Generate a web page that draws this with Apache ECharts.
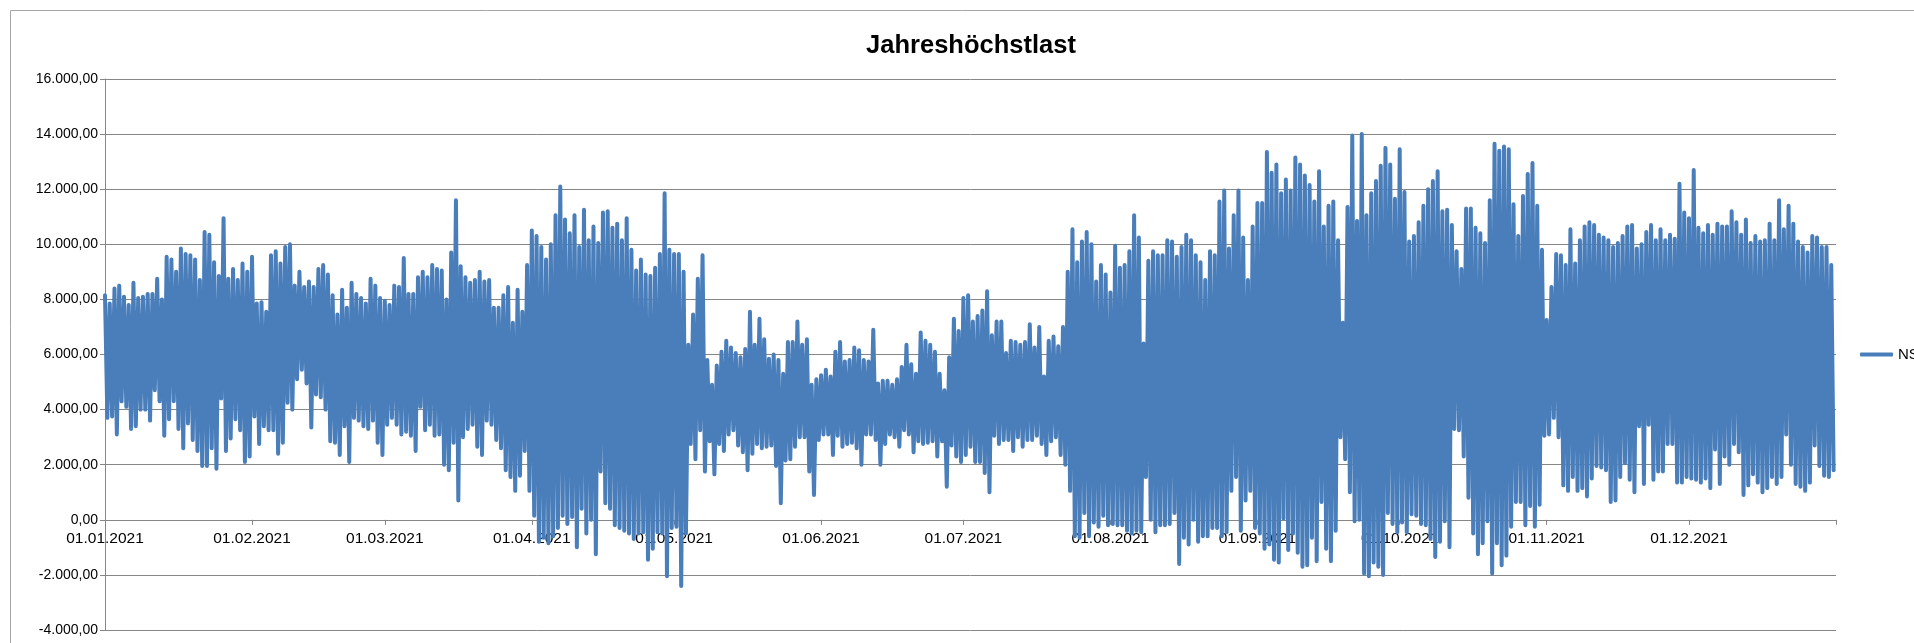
<!DOCTYPE html>
<html>
<head>
<meta charset="utf-8">
<script src="https://cdn.jsdelivr.net/npm/echarts@6/dist/echarts.min.js"></script>
<style>
html,body{margin:0;padding:0;background:#fff;}
#chart{width:1914px;height:643px;}
</style>
</head>
<body>
<div id="chart"></div>
<script>
// ---- Data (daily maximum / minimum of the load curve) ----
const monthLabels = ['01.01.2021','01.02.2021','01.03.2021','01.04.2021','01.05.2021','01.06.2021',
                     '01.07.2021','01.08.2021','01.09.2021','01.10.2021','01.11.2021','01.12.2021'];
const seriesName = 'NS';

const maxJan = [8150,7850,8400,8500,8100,7800,8600,8050,8100,8200,8200,8750,8000,9550,9450,9000,9850,9650,9600,9450,8700,10450,10350,9350,8850,10950,8750,9100,8700,9300,9000];
const minJan = [3700,3750,3100,4300,4100,3300,3400,4000,4000,3600,4700,4300,3050,3650,4300,3300,2600,3500,2900,2500,1950,1950,2600,1850,4400,2500,2950,3650,3250,2100,2300];
const maxFeb = [9550,7850,7900,7550,9600,9750,9300,9900,10000,8500,9000,8450,8650,8450,9100,9250,8900,8150,7450,8350,7700,8600,8200,8050,7850,8750,8500,8050];
const minFeb = [3750,2750,3400,3250,3250,2400,2800,4250,4000,5100,5450,4950,3350,4550,4450,4000,2850,2800,2350,3400,2100,3700,3600,3400,3300,3600,2800,2350];
const maxMar = [7950,7800,8500,8450,9500,8200,8200,8800,9000,8800,9250,9100,9050,8000,9700,11600,9200,8800,8600,8700,9000,8650,8700,7700,7700,8150,8450,7150,8350,7550,9250];
const minMar = [3450,3700,3450,3100,3200,3050,2500,4100,3250,3450,3050,3100,2000,1800,2800,700,3000,3300,3450,2650,2350,3600,3450,2900,2600,1800,1550,1050,1600,2500,1050];
const maxApr = [10500,10300,9900,9450,10000,11050,12100,10900,10400,11050,9900,11250,10150,10650,10050,11150,11200,10600,10750,10150,10950,9800,9050,9450,8900,8850,9150,9650,11850,9800];
const minApr = [150,-800,-650,-850,-600,-300,150,-150,100,-1000,400,-500,0,-1250,1750,600,400,-200,-300,-400,-500,-700,-500,-450,-1450,-1050,-450,-500,-2050,-300];
const maxMay = [9650,9650,9000,6350,7450,8750,9600,5800,4900,5600,6100,6500,6250,6050,5900,6200,7550,6350,7300,6550,5850,6000,5800,5300,6450,6450,7200,6350,6550,4900,5100];
const minMay = [-250,-2400,-500,2750,2200,3250,1750,2850,1650,2750,2500,3100,3250,2700,2450,1800,2400,2750,2600,2650,2700,1950,600,2150,2200,2650,3000,3000,1750,900,2900];
const maxJun = [5250,5450,5200,6100,6450,5750,5800,6250,6150,5800,5750,6900,4950,5050,5050,4900,5100,5550,6350,5650,5300,6800,6500,6350,6100,5300,4700,5900,7300,6850];
const minJun = [3100,3100,2350,3050,2650,2750,2800,2600,2000,3100,3100,2900,2000,2750,3100,3000,2650,3250,3100,2450,2850,2750,2800,2850,2300,2850,1200,2700,2300,2100];
const maxJul = [8050,8150,7200,7400,7600,8300,6700,7200,7200,6050,6500,6450,6350,6450,7100,6250,7000,5200,6500,6650,6300,7000,9000,10550,9350,10100,10450,10000,8650,9250,8900];
const minJul = [2350,2650,2100,2100,1700,1000,3050,2750,2900,2900,2500,3000,2650,2900,2900,3050,2750,2350,2850,3000,2350,2000,1050,-600,-650,250,-600,-100,-250,150,-200];
const maxAug = [8250,9950,9150,9250,9750,11050,10250,6400,9400,9750,9600,9600,10150,10100,9550,9900,10350,10150,9600,9350,8700,9750,9600,11550,11950,9850,11050,11950,10250,8700,10650];
const minAug = [-150,-200,-200,-400,-500,-400,-450,1550,0,-450,-200,-200,-150,250,-1600,-650,-900,0,-800,-600,-600,-300,-300,-600,-450,1050,1550,-400,700,1050,-300];
const maxSep = [11500,11500,13350,12600,12900,11850,12350,11950,13150,12900,12500,12150,11550,12650,10650,11400,11550,10150,7150,11350,13950,10850,14000,11050,11850,12300,12850,13500,12900,11650];
const minSep = [-500,-1050,-900,-1450,-1550,50,-1100,-500,-1200,-1700,-1650,-650,-1500,650,-1050,-1500,-400,3000,2200,1000,-50,0,-1950,-2050,-1550,-1700,-2000,250,-150,-450];
const maxOct = [13450,11900,10100,10300,10800,11400,12000,12300,12650,11200,11250,10700,9750,9100,11300,11300,10600,10400,10050,11600,13650,13400,13550,13450,11450,10300,11750,12550,12950,11400,9800];
const minOct = [-100,-450,200,150,-150,-200,-700,-1350,-800,-50,-1000,3300,3250,2300,800,-500,-1250,-850,-50,-1950,-850,-1650,-1300,-250,650,650,-200,500,-250,550,3050];
const maxNov = [7250,8450,9650,9600,9250,10550,9300,10150,10650,10800,10700,10350,10250,10150,9900,10050,10300,10650,10700,9850,10000,10450,10700,10150,10550,10150,10350,10200,12200,11150];
const minNov = [3100,3700,3000,1250,1050,1550,1050,1150,850,1500,1950,1900,1800,650,700,1550,2050,1450,1000,3400,1300,3450,1450,1750,1750,2750,2750,1350,1350,1550];
const maxDec = [10950,12700,10600,10400,10700,10350,10750,10650,10650,11200,10800,10350,10900,10050,10300,10100,10150,10750,10150,11600,10550,11400,10750,10100,9900,9700,10300,10250,9900,9900,9250];
const minDec = [1500,1450,1350,1500,1150,2550,1300,2300,2000,2750,2450,900,1250,1650,1350,1000,1150,1550,1300,1550,3100,2000,1300,1200,1050,1350,2700,1950,1600,1550,1800];

// ---- Build series (max then min of each day) ----
const dayMax = [].concat(maxJan,maxFeb,maxMar,maxApr,maxMay,maxJun,maxJul,maxAug,maxSep,maxOct,maxNov,maxDec);
const dayMin = [].concat(minJan,minFeb,minMar,minApr,minMay,minJun,minJul,minAug,minSep,minOct,minNov,minDec);
const values = [];
dayMax.forEach(function (h, i) { values.push(h, dayMin[i]); });

// half-day categories for the whole year plus the closing boundary (01.01.2022)
const categories = [];
const t0 = Date.UTC(2021, 0, 1);
for (let i = 0; i <= values.length; i++) {
  const d = new Date(t0 + i * 12 * 3600 * 1000);
  const p = n => String(n).padStart(2, '0');
  categories.push(p(d.getUTCDate()) + '.' + p(d.getUTCMonth() + 1) + '.' + d.getUTCFullYear() + ' ' + p(d.getUTCHours()));
}

function deNum(v) {
  const s = Math.abs(v).toFixed(2).split('.');
  return (v < 0 ? '-' : '') + s[0].replace(/\B(?=(\d{3})+(?!\d))/g, '.') + ',' + s[1];
}

const FONT = 'Liberation Sans';
const GRID_COLOR = '#868686';
const LINE_COLOR = '#4a7ebb';
const Y_MIN = -4000, Y_MAX = 16000;
const GRID = { left: 105, right: 78, top: 79, bottom: 13 };
const plotHeight = 643 - GRID.top - GRID.bottom;
// x axis sits on the zero line (Excel style): shift it up from the grid bottom
const zeroOffset = -plotHeight * (0 - Y_MIN) / (Y_MAX - Y_MIN);

const chart = echarts.init(document.getElementById('chart'), null, { renderer: 'canvas' });
chart.setOption({
  animation: false,
  backgroundColor: '#ffffff',
  textStyle: { fontFamily: FONT },
  title: {
    text: 'Jahreshöchstlast',
    left: 966,
    textAlign: 'center',
    top: 28,
    textStyle: { fontFamily: FONT, fontSize: 25.5, fontWeight: 'bold', color: '#000' }
  },
  graphic: [{
    type: 'rect',
    silent: true,
    shape: { x: 10.5, y: 10.5, width: 2000, height: 2000 },
    style: { fill: 'none', stroke: '#a6a6a6', lineWidth: 1 }
  }],
  legend: {
    data: [seriesName],
    left: 1860,
    top: 347,
    padding: 0,
    icon: 'roundRect',
    itemWidth: 33,
    itemHeight: 4,
    textStyle: { fontFamily: FONT, fontSize: 15, color: '#000' }
  },
  grid: { left: GRID.left, right: GRID.right, top: GRID.top, bottom: GRID.bottom, containLabel: false, outerBoundsMode: 'none' },
  xAxis: {
    type: 'category',
    data: categories,
    boundaryGap: false,
    offset: zeroOffset,
    axisLine: { show: true, onZero: false, lineStyle: { color: GRID_COLOR, width: 1 } },
    axisTick: {
      show: true, length: 5, inside: false,
      interval: (i, v) => v.slice(0, 3) === '01.' && v.slice(-3) === ' 00',
      lineStyle: { color: GRID_COLOR }
    },
    axisLabel: {
      show: true,
      interval: (i, v) => monthLabels.indexOf(v.slice(0, 10)) >= 0 && v.slice(-3) === ' 00',
      formatter: v => v.slice(0, 10),
      margin: 11,
      fontFamily: FONT, fontSize: 15.5, color: '#000'
    },
    splitLine: { show: false }
  },
  yAxis: {
    type: 'value',
    min: Y_MIN, max: Y_MAX, interval: 2000,
    axisLine: { show: true, lineStyle: { color: GRID_COLOR, width: 1 } },
    axisTick: { show: true, length: 5, lineStyle: { color: GRID_COLOR } },
    axisLabel: { formatter: deNum, margin: 7, fontFamily: FONT, fontSize: 14, color: '#000' },
    splitLine: { show: true, lineStyle: { color: GRID_COLOR, width: 1 } }
  },
  series: [{
    name: seriesName,
    type: 'line',
    data: values,
    symbol: 'none',
    showSymbol: false,
    silent: true,
    sampling: null,
    lineStyle: { color: LINE_COLOR, width: 4, join: 'round', cap: 'round' },
    itemStyle: { color: LINE_COLOR }
  }]
});
</script>
</body>
</html>
